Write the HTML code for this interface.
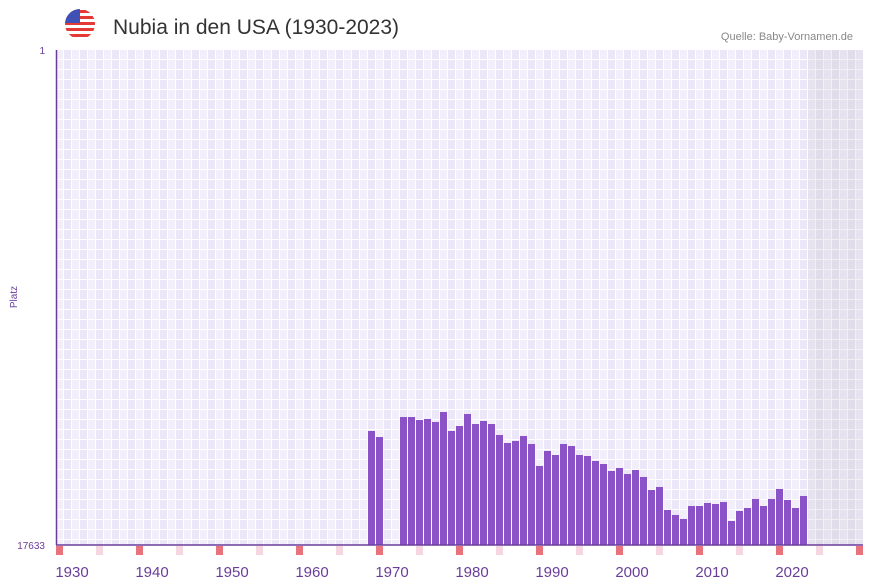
<!DOCTYPE html>
<html><head><meta charset="utf-8"><style>
body{margin:0;background:#fff;font-family:"Liberation Sans",sans-serif}
svg{display:block}
</style></head><body>
<svg id="c" width="873" height="587">
<defs>
<pattern id="g" x="56" y="50" width="16" height="10" patternUnits="userSpaceOnUse">
<rect width="8" height="10" fill="#f2effa"/><rect x="8" width="8" height="10" fill="#ece7f8"/>
<rect x="7" width="1" height="10" fill="#fff"/><rect x="15" width="1" height="10" fill="#fff"/>
<rect y="9" width="16" height="1" fill="#fff"/>
</pattern>
<pattern id="g2" x="56" y="50" width="16" height="10" patternUnits="userSpaceOnUse">
<rect width="8" height="10" fill="#e6e2ee"/><rect x="8" width="8" height="10" fill="#e1dcea"/>
<rect x="7" width="1" height="10" fill="#f2f0f5"/><rect x="15" width="1" height="10" fill="#f2f0f5"/>
<rect y="9" width="16" height="1" fill="#f2f0f5"/>
</pattern>
<clipPath id="fc"><circle cx="80" cy="24" r="15"/></clipPath>
</defs>
<g clip-path="url(#fc)">
<rect x="65" y="9" width="30" height="30" fill="#fff"/>
<rect x="65" y="10" width="30" height="3" fill="#e53935"/><rect x="65" y="16" width="30" height="3" fill="#e53935"/>
<rect x="65" y="22" width="30" height="3" fill="#e53935"/><rect x="65" y="28" width="30" height="3" fill="#e53935"/>
<rect x="65" y="34" width="30" height="3" fill="#e53935"/>
<rect x="65" y="9" width="15" height="14" fill="#3f51b5"/>
</g>
<text x="113" y="34" font-size="21" fill="#333">Nubia in den USA (1930-2023)</text>
<text x="853" y="40" font-size="11" fill="#888" text-anchor="end">Quelle: Baby-Vornamen.de</text>
<rect x="56" y="50" width="752" height="495" fill="url(#g)"/>
<rect x="808" y="50" width="55" height="495" fill="url(#g2)"/>
<g id="bars"></g><g id="marks"></g><g id="xt"></g>
<line x1="56.5" y1="50" x2="56.5" y2="545" stroke="#6a3d9a" stroke-width="1.5"/>
<line x1="56" y1="545" x2="863" y2="545" stroke="#6a3d9a" stroke-width="1.5"/>
<text x="45" y="54" font-size="10" fill="#6a3d9a" text-anchor="end">1</text>
<text x="45" y="549" font-size="10" fill="#6a3d9a" text-anchor="end">17633</text>
<text transform="translate(17,297) rotate(-90)" font-size="10" fill="#6a3d9a" text-anchor="middle">Platz</text>
</svg>
<script>
const years=[1968,1969,1972,1973,1974,1975,1976,1977,1978,1979,1980,1981,1982,1983,1984,1985,1986,1987,1988,1989,1990,1991,1992,1993,1994,1995,1996,1997,1998,1999,2000,2001,2002,2003,2004,2005,2006,2007,2008,2009,2010,2011,2012,2013,2014,2015,2016,2017,2018,2019,2020,2021,2022];
const ranks=[13572,13786,13074,13074,13181,13145,13252,12896,13572,13394,12967,13323,13216,13323,13715,13999,13928,13750,14035,14818,14285,14427,14035,14107,14427,14463,14641,14748,14997,14890,15104,14961,15210,15673,15566,16386,16564,16706,16244,16244,16137,16173,16102,16778,16422,16315,15994,16244,15994,15638,16030,16315,15887];
const tickYears=[1930,1940,1950,1960,1970,1980,1990,2000,2010,2020];
const NS='http://www.w3.org/2000/svg';
const xs=y=>56+(y-1929)*8;
const ys=r=>50+(r-1)/(17633-1)*495;
const bars=document.getElementById('bars');
years.forEach((yr,i)=>{const r=document.createElementNS(NS,'rect');
r.setAttribute('x',xs(yr));r.setAttribute('y',ys(ranks[i]));r.setAttribute('width',7);r.setAttribute('height',545-ys(ranks[i]));r.setAttribute('fill','#8a52c6');


bars.appendChild(r);});
const mk=document.getElementById('marks');
for(let y=1929;y<=2029;y+=5){const r=document.createElementNS(NS,'rect');
r.setAttribute('x',xs(y));r.setAttribute('y',546);r.setAttribute('width',7);r.setAttribute('height',9);
r.setAttribute('fill',(y-1929)%10===0?'#e8737c':'#f4d7e1');


mk.appendChild(r);}
const xt=document.getElementById('xt');
tickYears.forEach(y=>{const t=document.createElementNS(NS,'text');
t.setAttribute('x',xs(y)+8);t.setAttribute('y',577);t.setAttribute('font-size',15);t.setAttribute('fill','#6a3d9a');t.setAttribute('text-anchor','middle');
t.textContent=y;


xt.appendChild(t);});
</script>
</body></html>
